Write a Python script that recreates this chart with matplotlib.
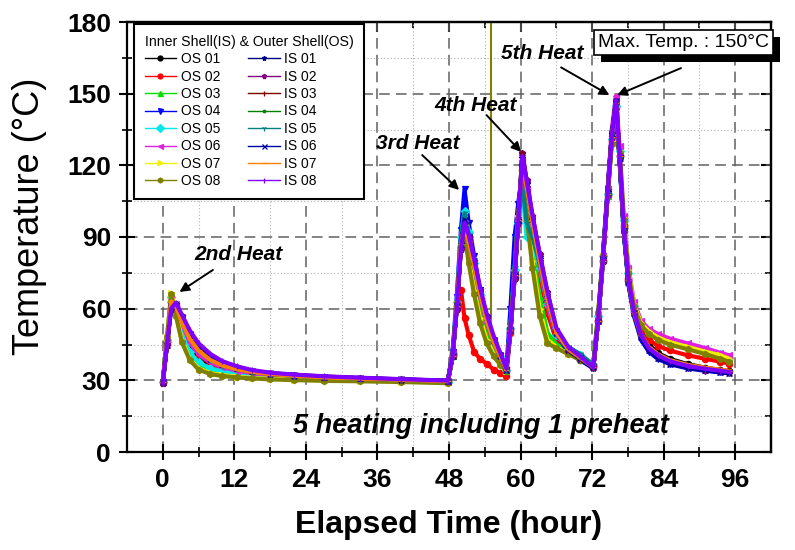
import matplotlib
matplotlib.use("Agg")
import matplotlib.pyplot as plt
import matplotlib.patheffects as pe

plt.rcParams['font.family'] = ['Liberation Sans', 'DejaVu Sans']

# ---------------- data ----------------
hours = [0, 0.7, 1.4, 2.2, 3.2, 4.5, 6, 8, 10, 12.5, 15, 18, 22, 27, 33, 40, 47.8,
         48.6, 49.3, 50.0, 50.6, 51.3, 52.2, 53.2, 54.3, 55.5, 56.6, 57.6,
         58.3, 59.0, 59.6, 60.3, 61.0, 62.0, 63.2, 64.5, 66, 68, 70, 72.2,
         73.0, 73.8, 74.6, 75.3, 76.0, 76.6, 77.3, 78.1, 79.0, 80.2, 81.5, 83, 85, 88, 91, 93.5, 95]

os01 = [29.3, 46, 63, 60, 52, 44, 39, 36, 34.3, 33, 32.2, 31.6, 31, 30.6, 30.2, 29.8, 29.3,
        40, 61, 86, 94, 86, 75, 63, 52, 44, 38.5, 34,
        51, 74, 97, 120, 108, 92, 75, 59, 47, 41.5, 38.5, 35.5,
        55, 80, 108, 131, 145, 124, 94, 72, 59, 50, 45, 41.5, 39, 36.8, 35.3, 34.3, 33.8]
os02 = [29.3, 46, 63, 61, 54, 46, 41, 37, 35, 33.5, 32.6, 31.9, 31.3, 30.8, 30.4, 30, 29.5,
        42, 60, 68, 56, 49, 42, 39, 37, 34.5, 33, 32,
        50, 73, 96, 118, 106, 90, 74, 58, 47, 42, 39, 36,
        55, 80, 107, 130, 144, 124, 95, 73, 60, 51, 47, 44.5, 42.5, 40.5, 39, 37.8, 37]
os03 = [29.5, 47, 65, 59, 49, 41, 37, 34.5, 33.5, 32.8, 32.4, 32, 31.6, 31.2, 30.7, 30.2, 29.6,
        40, 61, 86, 93, 84, 71, 59, 49, 42.5, 38, 34,
        52, 75, 97, 119, 104, 84, 65, 50, 45, 42.5, 40, 37,
        57, 81, 107, 130, 143, 126, 97, 75, 61, 53.5, 50.5, 48.5, 46.5, 44.5, 42.5, 41, 39.5]
os04 = [29.3, 45, 62, 61, 55, 48, 43, 39, 36.5, 34.5, 33.3, 32.4, 31.7, 31, 30.5, 30, 29.5,
        42, 65, 93, 110, 96, 82, 68, 56, 46, 39.5, 34,
        60, 90, 104, 117, 109, 95, 79, 63, 49, 42, 38.5, 35,
        56, 82, 110, 133, 145, 122, 92, 70, 57, 47, 42, 39, 36.8, 35, 34, 33.3, 33]
os05 = [29.5, 47, 65, 59, 50, 42, 37.5, 35, 33.8, 33, 32.5, 32, 31.5, 31, 30.5, 30, 29.5,
        41, 63, 90, 101, 92, 79, 66, 55, 46, 40, 34.5,
        52, 76, 96, 110, 90, 88, 77, 62, 49, 43, 40.5, 36.5,
        57, 82, 108, 131, 145, 126, 97, 75, 61, 53, 50, 48, 46.5, 44.5, 42.5, 41, 39.5]
os06 = [29.3, 46, 64, 61, 54, 46, 41, 37.5, 35.5, 34, 33, 32.2, 31.5, 31, 30.5, 30, 29.5,
        41, 62, 88, 96, 88, 77, 65, 54, 45.5, 39.5, 34.5,
        51, 74, 97, 122, 110, 94, 78, 62, 49, 43, 40, 36,
        56, 82, 110, 135, 149, 128, 99, 77, 63, 55, 51.5, 49.5, 47.5, 45.5, 43.5, 41.5, 40.5]
os07 = [29.5, 48, 66.5, 58, 47, 39, 35, 33, 32.2, 31.5, 31, 30.6, 30.3, 30, 29.8, 29.5, 29,
        40, 62, 87, 92, 81, 68, 56, 47, 41, 37, 34,
        52, 75, 98, 118, 101, 80, 60, 47, 44, 41, 39, 37,
        58, 82, 108, 130, 142, 126, 98, 76, 62, 54, 50.5, 48, 46, 44, 42, 40.5, 39]
os08 = [29.5, 48, 66, 57, 46, 38.5, 34.5, 32.6, 31.8, 31.2, 30.8, 30.4, 30.1, 29.8, 29.6, 29.3, 28.8,
        40, 62, 86, 91, 79, 66, 54, 45.5, 40, 36.5, 34,
        52, 75, 97, 116, 99, 77, 57, 45.5, 43.5, 41, 38.5, 36.5,
        58, 82, 107, 129, 141, 125, 97, 75, 61, 53, 49.5, 47, 45, 43, 41, 39, 37.8]
os08_spike_hours = [55.1, 55.1]
os08_spike_temp = [46, 190]

is01 = [29.3, 45, 61, 62, 56, 49, 43.5, 39, 36.8, 35, 33.8, 32.8, 32, 31.3, 30.8, 30.3, 29.7,
        40, 61, 87, 97, 90, 80, 67, 56, 46.5, 40, 34.5,
        51, 74, 97, 123, 112, 97, 81, 65, 50, 42.5, 39, 35,
        55, 81, 109, 133, 147, 123, 93, 71, 58, 48, 42.5, 39.5, 37, 35.3, 34.2, 33.5, 33]
is02 = [29, 45, 60, 62, 57, 50, 44.5, 40, 37.5, 35.5, 34, 33, 32.3, 31.6, 31, 30.4, 29.8,
        40, 60, 85, 96, 90, 80, 68, 57, 47.5, 41, 35,
        51, 73, 96, 125, 114, 99, 83, 67, 51, 43, 39.5, 35.5,
        55, 80, 108, 132, 147, 124, 93, 71, 58, 48.5, 43, 40, 37.5, 35.8, 34.5, 33.8, 33.3]
is03 = [29.2, 45, 61, 62, 56.5, 49.5, 44, 39.5, 37, 35.2, 33.8, 32.8, 32.1, 31.4, 30.9, 30.3, 29.7,
        40, 61, 86, 95, 89, 79, 67, 56, 47, 40.5, 34.5,
        51, 74, 97, 125, 113, 98, 82, 66, 50.5, 43, 39.5, 35.5,
        55, 80, 108, 132, 146, 124, 94, 72, 58.5, 49, 43.5, 40.5, 38, 36, 34.8, 34, 33.5]
is04 = [29.3, 45.5, 61.5, 61.5, 55.5, 48.5, 43, 38.8, 36.5, 34.8, 33.6, 32.7, 32, 31.3, 30.8, 30.3, 29.7,
        40, 61, 87, 96, 89, 78, 66, 55, 46, 40, 34.5,
        51, 74, 97, 122, 111, 96, 80, 64, 50, 43, 39.5, 35.5,
        55, 80, 108, 132, 146, 123, 93, 71, 58, 48, 43, 40, 37.5, 35.5, 34.5, 33.8, 33.3]
is05 = [29.3, 46, 62, 61, 55, 48, 42.5, 38.5, 36.2, 34.6, 33.5, 32.6, 31.9, 31.2, 30.7, 30.2, 29.6,
        41, 63, 90, 100, 91, 79, 66, 55, 46, 40, 34.5,
        53, 77, 100, 112, 96, 90, 79, 64, 50, 44, 41, 36.5,
        56, 81, 108, 131, 145, 123, 93, 71, 58, 48, 43, 40, 37.5, 35.5, 34.5, 33.8, 33.3]
is06 = [29.2, 45, 61, 62, 56.5, 49.5, 44, 39.5, 37, 35.2, 33.9, 32.9, 32.2, 31.5, 30.9, 30.4, 29.8,
        40, 61, 87, 97, 90, 80, 67, 56, 47, 40.5, 34.5,
        51, 74, 97, 123, 112, 97, 81, 65, 50.5, 43, 39.5, 35.5,
        55, 81, 109, 133, 147, 123, 93, 71, 58, 48, 42.5, 39.5, 37, 35.3, 34.2, 33.5, 33]
is07 = [29.3, 46, 63, 61, 54.5, 47.5, 42.5, 38.5, 36.2, 34.6, 33.5, 32.6, 31.9, 31.2, 30.7, 30.2, 29.6,
        40, 61, 87, 95, 88, 78, 66, 55, 46, 40, 34.5,
        51, 74, 97, 122, 111, 96, 80, 64, 50, 43, 39.5, 35.5,
        55, 80, 108, 132, 146, 124, 94, 72, 58.5, 49, 44, 41, 38.5, 36.5, 35.3, 34.5, 34]
is08 = [29, 45, 60, 62.5, 57.5, 51, 45.5, 41, 38, 35.8, 34.3, 33.2, 32.4, 31.7, 31.1, 30.5, 29.9,
        40, 60, 85, 96, 91, 81, 69, 58, 48.5, 41.5, 35,
        51, 73, 96, 124, 114, 99, 83, 67, 52, 44, 40, 35.5,
        55, 80, 108, 132, 147, 125, 94, 72, 59, 49, 43.5, 40.5, 38, 36, 34.8, 34, 33.5]

series_names = ['OS 01', 'OS 02', 'OS 03', 'OS 04', 'OS 05', 'OS 06', 'OS 07', 'OS 08',
                'IS 01', 'IS 02', 'IS 03', 'IS 04', 'IS 05', 'IS 06', 'IS 07', 'IS 08']
series_values = [os01, os02, os03, os04, os05, os06, os07, os08,
                 is01, is02, is03, is04, is05, is06, is07, is08]

x_ticks = [0, 12, 24, 36, 48, 60, 72, 84, 96]
x_tick_labels = ['0', '12', '24', '36', '48', '60', '72', '84', '96']
y_ticks = [0, 30, 60, 90, 120, 150, 180]
y_tick_labels = ['0', '30', '60', '90', '120', '150', '180']

heat_labels = ['2nd Heat', '3rd Heat', '4th Heat', '5th Heat']
heat_label_pos = [(12.7, 82.5), (42.7, 129.3), (52.4, 145.2), (63.6, 167.0)]
arrow_tails = [(8.4, 76.2), (43.5, 124.3), (54.3, 141.0), (66.8, 161.0), (86.9, 160.7)]
arrow_heads = [(2.8, 67.0), (49.7, 109.7), (60.1, 125.6), (74.9, 149.4), (76.2, 149.4)]

# ---------------- styles ----------------
colors = ['#000000', '#ff0000', '#00e000', '#0000ff', '#00e8e8', '#e020e0', '#f0f000', '#808000',
          '#000080', '#800080', '#800000', '#008000', '#008080', '#0000a0', '#ff8000', '#8000ff']
markers = ['o', 'o', '^', 'v', 'D', '<', '>', 'h', '*', 'p', '+', '.', '1', 'x', '_', '|']

fig = plt.figure(figsize=(7.95, 5.5), dpi=100)
ax = fig.add_axes([127 / 795, 1 - 452 / 550, (771 - 127) / 795, (452 - 22) / 550])

for name, vals, c, m in zip(series_names, series_values, colors, markers):
    ax.plot(hours, vals, color=c, lw=3.0, marker=m, markersize=4.5, markeredgewidth=0.9,
            markeredgecolor=c, label=name, zorder=3)
ax.plot(os08_spike_hours, os08_spike_temp, color=colors[7], lw=1.5, zorder=2)

ax.set_xlim(-6, 102)
ax.set_ylim(0, 180)
ax.set_xticks(x_ticks)
ax.set_xticklabels(x_tick_labels, fontweight='bold', fontsize=19)
ax.set_xticks([6, 18, 30, 42, 54, 66, 78, 90], minor=True)
ax.set_yticks(y_ticks)
ax.set_yticklabels(y_tick_labels, fontweight='bold', fontsize=19)
ax.set_yticks([15, 45, 75, 105, 135, 165], minor=True)

ax.tick_params(which='major', direction='inout', length=11, width=1.5, pad=6)
ax.tick_params(which='minor', direction='inout', length=7, width=1.2)

for s in ax.spines.values():
    s.set_linewidth(1.6)

ax.grid(which='major', color='#606060', lw=1.1, linestyle=(0, (7, 4)), zorder=0)
ax.grid(which='minor', color='#b0b0b0', lw=0.8, linestyle=(0, (1, 2)), zorder=0)
ax.set_axisbelow(True)

sec_x = ax.secondary_xaxis('top')
sec_x.set_xticks(x_ticks)
sec_x.set_xticks([6, 18, 30, 42, 54, 66, 78, 90], minor=True)
sec_x.tick_params(which='major', direction='in', length=7, width=1.5, labeltop=False)
sec_x.tick_params(which='minor', direction='in', length=4, width=1.2)
sec_x.spines['top'].set_linewidth(1.6)
sec_y = ax.secondary_yaxis('right')
sec_y.set_yticks(y_ticks)
sec_y.set_yticks([15, 45, 75, 105, 135, 165], minor=True)
sec_y.tick_params(which='major', direction='in', length=7, width=1.5, labelright=False)
sec_y.tick_params(which='minor', direction='in', length=4, width=1.2)
sec_y.spines['right'].set_linewidth(1.6)

fig.text(449 / 795, 1 - 525 / 550, 'Elapsed Time (hour)', fontsize=23, fontweight='bold',
         ha='center', va='center')
fig.text(30 / 795, 1 - 216 / 550, 'Temperature (\u00b0C)', fontsize=26, rotation=90,
         ha='center', va='center')

for lab, (tx, ty) in zip(heat_labels, heat_label_pos):
    ax.text(tx, ty, lab, fontsize=15, style='italic', fontweight='bold',
            ha='center', va='center', zorder=6)
for (tx, ty), (hx, hy) in zip(arrow_tails, arrow_heads):
    ax.annotate('', xy=(hx, hy), xytext=(tx, ty),
                arrowprops=dict(arrowstyle='-|>', color='black', lw=1.4, mutation_scale=14,
                                shrinkA=0, shrinkB=0), zorder=6)

ax.text(53.3, 10.9, '5 heating including 1 preheat', fontsize=19.5, style='italic',
        fontweight='bold', ha='center', va='center', zorder=6)

box = ax.text(87.3, 171.4, 'Max. Temp. : 150\u00b0C', fontsize=14, ha='center', va='center',
              bbox=dict(boxstyle='square,pad=0.22', fc='white', ec='black', lw=1.2),
              zorder=8, clip_on=False)
box.get_bbox_patch().set_path_effects([pe.withSimplePatchShadow(offset=(5, -5),
                                                                shadow_rgbFace='black', alpha=1.0)])

leg = ax.legend(ncol=2, loc='upper left', bbox_to_anchor=(0.011, 0.995), borderaxespad=0,
                title='Inner Shell(IS) & Outer Shell(OS)', title_fontsize=10.2, fontsize=10,
                frameon=True, fancybox=False, edgecolor='black', framealpha=1,
                handlelength=2.3, handletextpad=0.3, columnspacing=2.0, labelspacing=0.25,
                numpoints=1, markerscale=0.8, borderpad=0.75, alignment='left')
leg.get_frame().set_linewidth(1.5)
leg.set_zorder(9)
for h in leg.legend_handles:
    h.set_linewidth(1.0)

fig.savefig('out.png', dpi=100)
